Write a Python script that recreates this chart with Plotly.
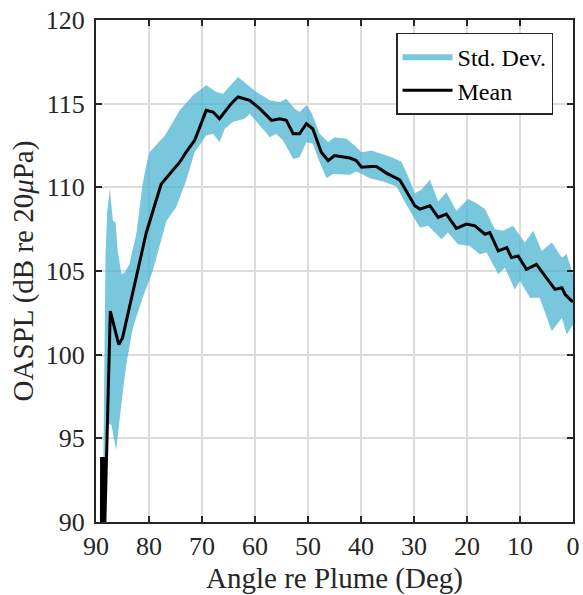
import plotly.graph_objects as go

# Mean OASPL vs angle
mean_angle = [89.0, 88.95, 88.55, 88.45, 87.3, 85.7, 85.0, 83.7, 82.1, 80.5, 77.7, 74.2, 73.0,
              71.4, 69.2, 67.9, 66.7, 64.5, 63.2, 61.0, 59.1, 56.9, 55.3, 54.1, 52.8, 51.6,
              50.3, 49.1, 47.5, 46.2, 45.0, 42.1, 40.9, 39.9, 38.0, 37.1, 35.2, 32.7, 31.4,
              29.85, 28.9, 27.0, 25.45, 23.9, 22.0, 20.1, 18.5, 16.6, 15.7, 14.1, 12.5, 11.6,
              10.35, 8.8, 6.9, 4.9, 3.4, 2.1, 1.5, 0.25, 0.0]
mean_oaspl = [85.0, 93.8, 93.8, 88.5, 102.6, 100.6, 101.0, 102.8, 105.0, 107.3, 110.2, 111.5, 112.1,
              112.8, 114.6, 114.5, 114.1, 115.0, 115.4, 115.2, 114.7, 114.0, 114.1, 114.0, 113.2, 113.2,
              113.8, 113.5, 112.1, 111.6, 111.9, 111.75, 111.6, 111.2, 111.25, 111.25, 110.85, 110.45, 109.75,
              108.9, 108.7, 108.9, 108.2, 108.4, 107.55, 107.8, 107.7, 107.2, 107.3, 106.2, 106.4, 105.8,
              105.9, 105.1, 105.4, 104.5, 103.9, 104.0, 103.6, 103.2, 103.2]

# Upper edge of std. dev. band
upper_angle = [88.9, 88.5, 88.2, 87.9, 87.4, 86.8, 86.3, 85.9, 85.2, 84.6, 83.7, 82.4, 81.2, 80.5,
               79.9, 77.0, 74.2, 71.7, 69.2, 67.3, 66.05, 63.2, 61.3, 59.75, 57.2, 55.3, 54.1,
               52.5, 51.6, 50.3, 49.4, 47.8, 46.2, 45.0, 42.75, 41.2, 39.9, 38.0, 37.1, 34.6,
               32.4, 31.1, 29.85, 28.6, 27.0, 25.45, 23.9, 22.0, 19.8, 18.2, 16.6, 14.75, 13.2,
               11.3, 10.0, 9.1, 7.5, 5.9, 4.0, 2.1, 1.2, 0.0]
upper_oaspl = [85.0, 96.0, 106.0, 108.5, 109.9, 108.0, 107.9, 106.2, 104.8, 104.9, 105.4, 107.2, 110.2, 111.35,
               112.1, 113.1, 114.6, 115.5, 116.1, 115.7, 115.6, 116.6, 116.1, 115.7, 115.2, 115.1, 115.3,
               114.7, 114.5, 114.9, 114.5, 113.2, 112.7, 113.0, 112.9, 112.5, 112.1, 112.2, 112.1, 111.85,
               111.55, 110.65, 109.65, 109.85, 110.45, 109.15, 109.7, 108.6, 109.3, 109.05, 108.7, 107.5, 107.4,
               107.7, 107.1, 106.7, 107.4, 106.2, 106.7, 105.8, 106.0, 104.8]

# Lower edge of std. dev. band
lower_angle = [88.8, 88.2, 87.8, 87.1, 86.2, 85.6, 84.9, 84.3, 83.05, 81.2, 79.3, 76.7, 74.9, 73.0,
               71.4, 69.2, 67.9, 66.7, 65.7, 64.2, 62.0, 61.0, 59.1, 57.2, 56.0, 54.7, 52.8, 51.6,
               50.3, 49.1, 47.8, 46.5, 45.3, 42.1, 40.9, 39.6, 38.35, 35.8, 33.3, 31.4, 28.9, 27.3,
               24.8, 23.6, 21.7, 19.5, 17.6, 16.3, 14.1, 12.85, 11.0, 10.0, 8.1, 6.3, 4.0, 2.1, 1.2, 0.0]
lower_oaspl = [85.0, 95.1, 95.9, 95.8, 94.3, 95.9, 97.9, 99.4, 101.6, 103.4, 105.0, 108.0, 108.8, 110.4,
               112.1, 113.1, 113.2, 112.7, 113.5, 113.9, 114.1, 114.4, 113.7, 113.0, 113.2, 112.8, 111.7, 111.8,
               112.7, 112.6, 111.5, 110.55, 110.8, 110.75, 110.95, 110.75, 110.55, 110.35, 110.05, 108.95, 107.6, 107.7,
               106.9, 107.3, 106.6, 106.5, 106.0, 106.1, 104.8, 105.2, 103.9, 104.4, 103.4, 103.4, 101.4, 102.2, 101.2, 101.8]

x_ticks = [90, 80, 70, 60, 50, 40, 30, 20, 10, 0]
y_ticks = [90, 95, 100, 105, 110, 115, 120]

band_x = upper_angle + lower_angle[::-1]
band_y = upper_oaspl + lower_oaspl[::-1]

FONT = "Liberation Serif"
AXC = "#262626"

fig = go.Figure()
fig.add_trace(go.Scatter(
    x=band_x, y=band_y, mode="lines", fill="toself",
    fillcolor="rgba(75,180,210,0.75)", line=dict(width=0, color="rgba(0,0,0,0)"),
    name="Std. Dev.", hoverinfo="skip"))
fig.add_trace(go.Scatter(
    x=mean_angle, y=mean_oaspl, mode="lines",
    line=dict(color="black", width=3), name="Mean"))

fig.update_layout(
    width=583, height=595,
    margin=dict(l=96, r=10, t=20, b=73, autoexpand=False),
    paper_bgcolor="white", plot_bgcolor="white",
    font=dict(family=FONT, size=26, color=AXC),
    showlegend=True,
    legend=dict(x=0.629, y=0.975, xanchor="left", yanchor="top",
                bgcolor="white", bordercolor=AXC, borderwidth=1.5,
                font=dict(family=FONT, size=24, color="black"),
                tracegroupgap=0, itemwidth=50),
)
fig.update_xaxes(
    range=[90, 0], tickvals=x_ticks, ticktext=[str(v) for v in x_ticks],
    showgrid=True, gridcolor="#dcdcdc", gridwidth=1.5,
    showline=True, linecolor=AXC, linewidth=2, mirror="ticks",
    ticks="inside", ticklen=6, tickwidth=1.5, tickcolor=AXC,
    zeroline=False, automargin=False, ticklabeloverflow="allow",
    title=dict(text="Angle re Plume (Deg)", font=dict(family=FONT, size=29, color=AXC), standoff=7),
    tickfont=dict(family=FONT, size=26, color=AXC))
fig.update_yaxes(
    range=[90, 120], tickvals=y_ticks, ticktext=[str(v) for v in y_ticks],
    showgrid=True, gridcolor="#dcdcdc", gridwidth=1.5,
    showline=True, linecolor=AXC, linewidth=2, mirror="ticks",
    ticks="inside", ticklen=6, tickwidth=1.5, tickcolor=AXC,
    zeroline=False, ticklabelstandoff=4, automargin=False, ticklabeloverflow="allow",
    title=dict(text="OASPL (dB re 20<i>μ</i>Pa)", font=dict(family=FONT, size=29, color=AXC), standoff=4),
    tickfont=dict(family=FONT, size=26, color=AXC))

# remove the default 8px page margin so the figure fills the window exactly
fig.write_html("out.html",
               config={"displayModeBar": False},
               post_script="document.body.style.margin='0px';document.body.style.overflow='hidden';")
